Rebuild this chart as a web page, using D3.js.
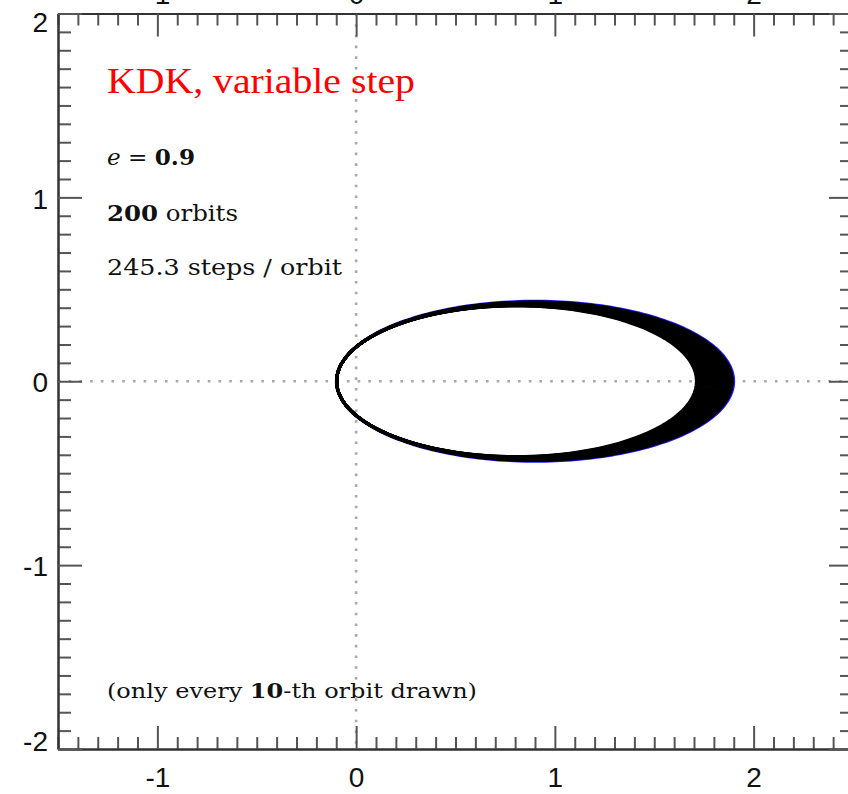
<!DOCTYPE html>
<html>
<head>
<meta charset="utf-8">
<script src="https://cdn.jsdelivr.net/npm/d3@7"></script>
<style>
  html, body { margin: 0; padding: 0; background: #fff; }
  svg { display: block; }
</style>
</head>
<body>
<div id="chart-area"></div>
<script>
// orbit data
const eccentricity = 0.9;
const exactPeri = 0.1, exactApo = 1.9;          // blue reference orbit
const drawnOrbits = [0, 10, 20, 30, 40, 50, 60, 70, 80, 90, 100, 110, 120, 130, 140, 150, 160, 170, 180, 190];
const periDist = 0.098;
const apoDist = [1.893, 1.884, 1.874, 1.865, 1.855, 1.846, 1.836, 1.826, 1.817, 1.807,
                 1.797, 1.788, 1.778, 1.768, 1.759, 1.749, 1.739, 1.730, 1.721, 1.712];

const xMajor = [-1, 0, 1, 2];
const yMajor = [-2, -1, 0, 1, 2];
const xLabels = ['-1', '0', '1', '2'];
const yLabels = ['-2', '-1', '0', '1', '2'];

const W = 848, H = 794;
const margin = { left: 58, right: -5, top: 13.5, bottom: 45 };
const width = W - margin.left - margin.right,
  height = H - margin.top - margin.bottom;

const x = d3.scaleLinear().domain([-1.5, 2.5]).range([0, width]);
const y = d3.scaleLinear().domain([-2, 2]).range([height, 0]);

const svg = d3.select('#chart-area')
  .append('svg')
  .attr('width', W)
  .attr('height', H);

const g = svg.append('g')
  .attr('transform', `translate(${margin.left},${margin.top})`);

// dotted zero lines
g.append('line')
  .attr('x1', x(0)).attr('x2', x(0))
  .attr('y1', 0).attr('y2', height)
  .attr('stroke', '#a8a8a8').attr('stroke-width', 2.6)
  .attr('stroke-dasharray', '2.6,8.1');
g.append('line')
  .attr('x1', 0).attr('x2', width)
  .attr('y1', y(0)).attr('y2', y(0))
  .attr('stroke', '#a8a8a8').attr('stroke-width', 2.6)
  .attr('stroke-dasharray', '2.6,8.1');

// orbits
const line = d3.line().x(d => x(d[0])).y(d => y(d[1]));
function ellipse(q, Q) {
  const a = (q + Q) / 2, b = Math.sqrt(q * Q), cx = a - q;
  return d3.range(0, 361, 1.5).map(t => {
    const E = t * Math.PI / 180;
    return [cx + a * Math.cos(E), b * Math.sin(E)];
  });
}

// exact orbit underneath, numerical ones on top
g.append('path')
  .attr('d', line(ellipse(exactPeri, exactApo)))
  .attr('fill', 'none')
  .attr('stroke', '#1a1aff')
  .attr('stroke-width', 2.8);

g.append('g').selectAll('path')
  .data(drawnOrbits)
  .join('path')
  .attr('d', (d, i) => line(ellipse(periDist, apoDist[i])))
  .attr('fill', 'none')
  .attr('stroke', '#000')
  .attr('stroke-width', 3);

// axes
const minorX = d3.range(-15, 26).map(d => d / 10).filter(d => !xMajor.includes(Math.round(d * 10) / 10));
const minorY = d3.range(-20, 21).map(d => d / 10).filter(d => !yMajor.includes(Math.round(d * 10) / 10));

function styleAxis(sel) {
  sel.select('.domain').attr('stroke', '#333').attr('stroke-width', 2);
  sel.selectAll('.tick line').attr('stroke', '#555').attr('stroke-width', 2);
  sel.selectAll('text')
    .attr('fill', '#111')
    .style('font', '28px "Liberation Sans", Arial, sans-serif');
}

g.append('g').attr('transform', `translate(0,${height})`)
  .call(d3.axisBottom(x).tickValues(minorX).tickSize(-12).tickSizeOuter(0).tickFormat(''))
  .call(styleAxis);
g.append('g').attr('transform', `translate(0,${height})`)
  .call(d3.axisBottom(x).tickValues(xMajor).tickSize(-23).tickSizeOuter(0).tickPadding(18)
    .tickFormat((d, i) => xLabels[i]))
  .call(styleAxis);

g.append('g')
  .call(d3.axisTop(x).tickValues(minorX).tickSize(-12).tickSizeOuter(0).tickFormat(''))
  .call(styleAxis);
// labels of the panel above, mostly outside the picture
g.append('g')
  .call(d3.axisTop(x).tickValues(xMajor).tickSize(-23).tickSizeOuter(0).tickPadding(10)
    .tickFormat((d, i) => xLabels[i]))
  .call(styleAxis);

g.append('g')
  .call(d3.axisLeft(y).tickValues(minorY).tickSize(-13).tickSizeOuter(0).tickFormat(''))
  .call(styleAxis);
const yAx = g.append('g')
  .call(d3.axisLeft(y).tickValues(yMajor).tickSize(-24).tickSizeOuter(0).tickPadding(10)
    .tickFormat((d, i) => yLabels[i]))
  .call(styleAxis);
yAx.selectAll('text').attr('dy', '0.38em');
yAx.selectAll('text').filter(d => d === 2).attr('dy', '0.66em');
yAx.selectAll('text').filter(d => d === -2).attr('dy', '0.04em');

g.append('g').attr('transform', `translate(${width},0)`)
  .call(d3.axisRight(y).tickValues(minorY).tickSize(-13).tickSizeOuter(0).tickFormat(''))
  .call(styleAxis);
g.append('g').attr('transform', `translate(${width},0)`)
  .call(d3.axisRight(y).tickValues(yMajor).tickSize(-24).tickSizeOuter(0).tickFormat(''))
  .call(styleAxis);

// annotations
const serif = '"Liberation Serif", "Times New Roman", serif';
const serif2 = '"DejaVu Serif", "Liberation Serif", serif';

svg.append('text')
  .attr('x', 107).attr('y', 93)
  .attr('fill', '#ff0000')
  .style('font-family', serif).style('font-size', '35px')
  .attr('textLength', 308).attr('lengthAdjust', 'spacingAndGlyphs')
  .text('KDK, variable step');

const t1 = svg.append('text')
  .attr('x', 107).attr('y', 165)
  .attr('fill', '#111')
  .style('font-family', serif2).style('font-size', '23px')
  .attr('textLength', 88).attr('lengthAdjust', 'spacingAndGlyphs');
t1.append('tspan').style('font-style', 'italic').text('e');
t1.append('tspan').text(' = ');
t1.append('tspan').style('font-weight', 'bold').text(`${eccentricity}`);

const t2 = svg.append('text')
  .attr('x', 107).attr('y', 221)
  .attr('fill', '#111')
  .style('font-family', serif2).style('font-size', '23px')
  .attr('textLength', 131).attr('lengthAdjust', 'spacingAndGlyphs');
t2.append('tspan').style('font-weight', 'bold').text('200');
t2.append('tspan').text(' orbits');

svg.append('text')
  .attr('x', 107).attr('y', 275)
  .attr('fill', '#111')
  .style('font-family', serif2).style('font-size', '23px')
  .attr('textLength', 235).attr('lengthAdjust', 'spacingAndGlyphs')
  .text('245.3 steps / orbit');

const t4 = svg.append('text')
  .attr('x', 107).attr('y', 698)
  .attr('fill', '#111')
  .style('font-family', serif2).style('font-size', '21px')
  .attr('textLength', 370).attr('lengthAdjust', 'spacingAndGlyphs');
t4.append('tspan').text('(only every ');
t4.append('tspan').style('font-weight', 'bold').text('10');
t4.append('tspan').text('-th orbit drawn)');
</script>
</body>
</html>
